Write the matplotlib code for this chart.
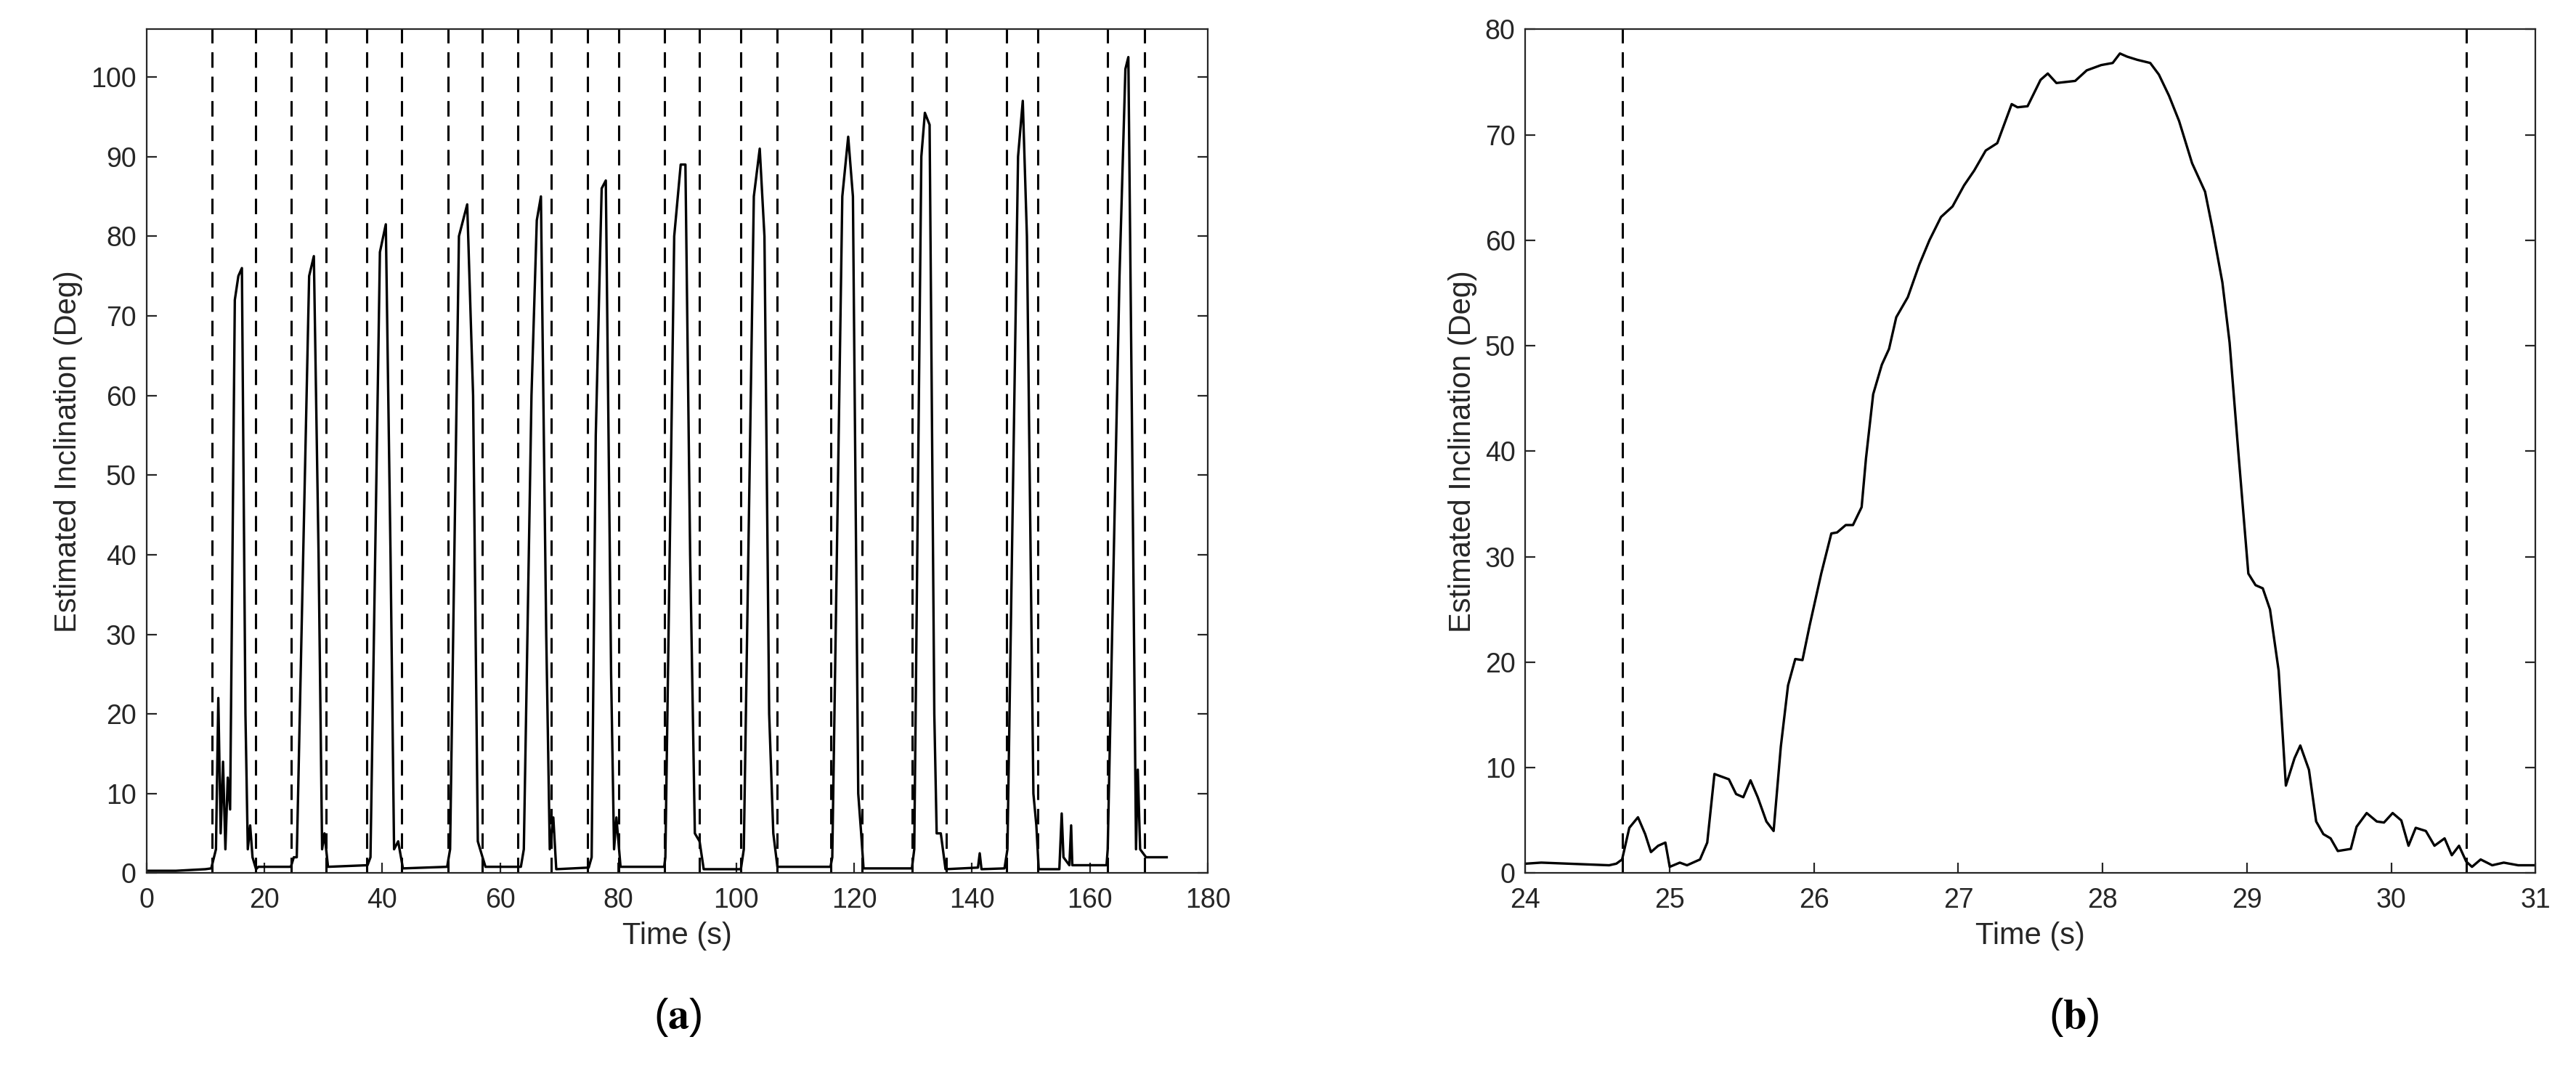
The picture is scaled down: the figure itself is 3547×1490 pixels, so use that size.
import matplotlib.pyplot as plt
import numpy as np

plt.rcParams['font.family'] = ['Liberation Sans', 'DejaVu Sans']
plt.rcParams['mathtext.fontset'] = 'stix'

# panel (a): full recording, hand-read polyline
ta = [0, 5, 10, 11, 11.8, 12.2, 12.6, 13.0, 13.4, 13.8, 14.2, 15.0, 15.6, 16.2, 16.8, 17.2, 17.6, 18.0, 18.6, 19, 24.5,
      25, 25.5, 27.6, 28.4, 29.2, 29.8, 30.2, 30.8, 37.5,
      38.0, 39.6, 40.6, 41.4, 42, 42.7, 43.5, 51,
      51.5, 53, 54.4, 55.4, 56.2, 57, 57.5, 63.5,
      64, 65.3, 66.2, 66.9, 67.8, 68.4, 69, 69.5, 75,
      75.5, 76.2, 77.2, 77.9, 78.8, 79.3, 79.7, 80.4, 87.8,
      88, 89.5, 90.6, 91.4, 92.2, 93, 93.8, 94.5, 100.8,
      101.3, 103, 104, 104.8, 105.6, 106.3, 107, 116,
      116.3, 118, 119, 119.8, 120.7, 121.2, 121.6, 129.8,
      130.2, 131.4, 132, 132.8, 133.6, 134, 134.7, 135.5, 141, 141.3, 141.6, 145.5,
      146, 147.8, 148.6, 149.3, 150.4, 150.9, 151.3, 154.8, 155.2, 155.5, 156.5, 156.8, 157, 162.8,
      163, 165, 166, 166.5, 167.2, 167.8, 168.1, 168.5, 169.5, 173]
va = [0.3, 0.3, 0.5, 0.6, 3, 22, 5, 14, 3, 12, 8, 72, 75, 76, 20, 3, 6, 2, 0.5, 0.8, 0.8,
      2, 2, 75, 77.5, 40, 3, 5, 0.8, 1.0,
      2, 78, 81.5, 40, 3, 4, 0.6, 0.8,
      3, 80, 84, 60, 4, 2, 0.8, 0.8,
      3, 60, 82, 85, 30, 3, 7, 0.5, 0.7,
      2, 55, 86, 87, 25, 3, 7, 0.8, 0.8,
      2, 80, 89, 89, 40, 5, 4, 0.5, 0.5,
      3, 85, 91, 80, 20, 5, 0.8, 0.8,
      2, 85, 92.5, 85, 10, 5, 0.6, 0.6,
      3, 90, 95.5, 94, 20, 5, 5, 0.5, 0.7, 2.5, 0.5, 0.6,
      3, 90, 97, 80, 10, 6, 0.5, 0.5, 7.5, 2, 1, 6, 1, 1,
      3, 75, 101, 102.5, 50, 3, 13, 3, 2, 2]
marks_a = [11.1, 18.5, 24.6, 30.5, 37.4, 43.3, 51.2, 56.9, 63.0, 68.7, 74.8, 80.1,
           87.9, 93.8, 100.8, 106.9, 116.0, 121.3, 129.8, 135.6, 145.8, 151.2, 163.0, 169.3]

# panel (b): zoom on one repetition
tb = [24.0, 24.11, 24.58, 24.63, 24.67, 24.72, 24.78, 24.83, 24.87, 24.92, 24.97, 25.0, 25.07, 25.12, 25.21, 25.26,
      25.31, 25.41, 25.46, 25.51, 25.56, 25.61, 25.67, 25.72, 25.77, 25.82, 25.87, 25.92, 25.97, 26.05, 26.12, 26.16,
      26.22, 26.27, 26.33, 26.36, 26.41, 26.47, 26.52, 26.57, 26.65, 26.73, 26.80, 26.88, 26.96, 27.04, 27.11, 27.19,
      27.27, 27.37, 27.41, 27.48, 27.57, 27.62, 27.68, 27.81, 27.89, 27.99, 28.07, 28.12, 28.17, 28.24, 28.33, 28.39,
      28.46, 28.53, 28.62, 28.71, 28.76, 28.83, 28.88, 28.94, 29.01, 29.06, 29.11, 29.16, 29.22, 29.27, 29.33, 29.37,
      29.43, 29.48, 29.53, 29.58, 29.63, 29.72, 29.76, 29.83, 29.9, 29.95, 30.01, 30.07, 30.12, 30.17, 30.24, 30.3,
      30.37, 30.42, 30.47, 30.52, 30.56, 30.62, 30.7, 30.78, 30.88, 31.0]
vb = [0.9, 1.0, 0.75, 0.9, 1.3, 4.3, 5.3, 3.7, 2.0, 2.6, 2.9, 0.6, 1.0, 0.75, 1.3, 2.9,
      9.4, 8.9, 7.5, 7.2, 8.8, 7.2, 4.9, 4.0, 12, 17.8, 20.3, 20.2, 23.5, 28.4, 32.2, 32.3,
      33, 33, 34.7, 39.3, 45.4, 48.2, 49.7, 52.7, 54.6, 57.7, 60, 62.2, 63.2, 65.2, 66.6, 68.5,
      69.2, 72.9, 72.6, 72.7, 75.2, 75.8, 74.9, 75.1, 76.1, 76.6, 76.8, 77.7, 77.4, 77.1, 76.8, 75.7,
      73.7, 71.3, 67.3, 64.6, 61.2, 56, 50.3, 40, 28.4, 27.3, 27, 25, 19.2, 8.3, 10.9, 12.1,
      9.8, 4.9, 3.7, 3.3, 2.1, 2.3, 4.4, 5.7, 4.9, 4.8, 5.7, 5, 2.6, 4.3, 4, 2.6,
      3.3, 1.7, 2.6, 1.1, 0.6, 1.3, 0.75, 1.0, 0.75, 0.75]
marks_b = [24.67, 30.52]

fig = plt.figure(figsize=(17.74, 7.45), dpi=200)
axa = fig.add_axes([0.0568, 0.193, 0.412, 0.78])
axb = fig.add_axes([0.592, 0.193, 0.392, 0.78])

txt = '#262626'
for ax, t, v, marks in [(axa, ta, va, marks_a), (axb, tb, vb, marks_b)]:
    ax.plot(t, v, color='black', lw=1.2)
    for m in marks:
        ax.axvline(m, color='black', lw=1.1, ls=(0, (7, 4)))
    ax.tick_params(direction='in', top=False, right=True, labelsize=13.5, length=5,
                   labelcolor=txt, color=txt)
    ax.tick_params(axis='x', pad=7)
    ax.tick_params(axis='y', pad=5)
    ax.set_xlabel('Time (s)', fontsize=15, color=txt)
    ax.set_ylabel('Estimated Inclination (Deg)', fontsize=15, color=txt)
    for s in ax.spines.values():
        s.set_color(txt)

axa.set_xlim(0, 180)
axa.set_ylim(0, 106)
axa.set_xticks(np.arange(0, 181, 20))
axa.set_yticks(np.arange(0, 101, 10))
axb.set_xlim(24, 31)
axb.set_ylim(0, 80)
axb.set_yticks(np.arange(0, 81, 10))

fig.text(0.263, 0.05, r'($\mathbf{a}$)', fontsize=21, ha='center')
fig.text(0.805, 0.05, r'($\mathbf{b}$)', fontsize=21, ha='center')

fig.savefig('out.png', dpi=200)
